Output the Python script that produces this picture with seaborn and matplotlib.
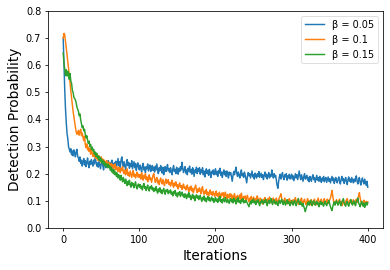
import numpy as np
import pandas as pd
import seaborn as sns
import matplotlib
matplotlib.use("Agg")
import matplotlib.pyplot as plt

labels = ["β = 0.05", "β = 0.1", "β = 0.15"]

beta_005 = [
    0.700, 0.600, 0.510, 0.440, 0.390, 0.350, 0.330, 0.300, 0.290, 0.280, 0.292, 0.270, 0.284, 0.266, 0.288, 0.276, 0.262, 0.280, 0.290, 0.264,
    0.258, 0.246, 0.262, 0.238, 0.250, 0.228, 0.244, 0.256, 0.232, 0.248, 0.226, 0.240, 0.258, 0.236, 0.222, 0.246, 0.234, 0.252, 0.238, 0.228,
    0.250, 0.236, 0.262, 0.244, 0.228, 0.240, 0.224, 0.246, 0.232, 0.218, 0.238, 0.252, 0.230, 0.214, 0.236, 0.244, 0.222, 0.240, 0.230, 0.248,
    0.226, 0.242, 0.218, 0.236, 0.250, 0.228, 0.214, 0.240, 0.232, 0.246, 0.222, 0.238, 0.256, 0.230, 0.244, 0.224, 0.250, 0.262, 0.238, 0.226,
    0.244, 0.228, 0.216, 0.238, 0.252, 0.230, 0.242, 0.220, 0.236, 0.226, 0.248, 0.218, 0.232, 0.244, 0.222, 0.238, 0.212, 0.230, 0.240, 0.222,
    0.214, 0.232, 0.220, 0.206, 0.228, 0.238, 0.214, 0.224, 0.204, 0.226, 0.218, 0.236, 0.210, 0.222, 0.232, 0.208, 0.220, 0.230, 0.212, 0.224,
    0.206, 0.228, 0.214, 0.236, 0.212, 0.200, 0.222, 0.210, 0.230, 0.218, 0.202, 0.224, 0.196, 0.214, 0.226, 0.208, 0.220, 0.234, 0.210, 0.218,
    0.204, 0.222, 0.210, 0.196, 0.218, 0.230, 0.208, 0.216, 0.200, 0.224, 0.212, 0.198, 0.220, 0.208, 0.226, 0.214, 0.242, 0.220, 0.204, 0.216,
    0.226, 0.202, 0.214, 0.196, 0.220, 0.210, 0.228, 0.204, 0.216, 0.198, 0.222, 0.212, 0.190, 0.214, 0.206, 0.224, 0.200, 0.218, 0.208, 0.222,
    0.198, 0.214, 0.204, 0.222, 0.196, 0.210, 0.188, 0.206, 0.218, 0.200, 0.212, 0.194, 0.216, 0.204, 0.186, 0.208, 0.200, 0.214, 0.196, 0.206,
    0.218, 0.196, 0.208, 0.190, 0.212, 0.202, 0.220, 0.194, 0.206, 0.186, 0.204, 0.214, 0.196, 0.208, 0.190, 0.210, 0.200, 0.184, 0.206, 0.196,
    0.204, 0.188, 0.172, 0.194, 0.208, 0.196, 0.212, 0.224, 0.200, 0.190, 0.206, 0.194, 0.184, 0.202, 0.214, 0.192, 0.200, 0.186, 0.206, 0.196,
    0.182, 0.166, 0.190, 0.204, 0.192, 0.200, 0.184, 0.198, 0.210, 0.188, 0.196, 0.180, 0.202, 0.192, 0.184, 0.200, 0.190, 0.208, 0.186, 0.194,
    0.202, 0.186, 0.196, 0.178, 0.194, 0.206, 0.188, 0.198, 0.180, 0.194, 0.204, 0.184, 0.196, 0.190, 0.214, 0.196, 0.184, 0.200, 0.188, 0.194,
    0.174, 0.156, 0.146, 0.172, 0.190, 0.198, 0.180, 0.194, 0.204, 0.186, 0.178, 0.196, 0.188, 0.200, 0.176, 0.192, 0.184, 0.198, 0.180, 0.190,
    0.198, 0.180, 0.192, 0.174, 0.188, 0.200, 0.184, 0.196, 0.178, 0.194, 0.210, 0.190, 0.178, 0.196, 0.184, 0.172, 0.190, 0.200, 0.180, 0.186,
    0.194, 0.176, 0.186, 0.170, 0.190, 0.182, 0.172, 0.188, 0.196, 0.178, 0.186, 0.168, 0.182, 0.194, 0.176, 0.186, 0.172, 0.190, 0.180, 0.168,
    0.184, 0.174, 0.190, 0.170, 0.180, 0.186, 0.168, 0.178, 0.188, 0.172, 0.182, 0.166, 0.178, 0.190, 0.174, 0.184, 0.164, 0.176, 0.186, 0.172,
    0.166, 0.180, 0.188, 0.172, 0.162, 0.178, 0.190, 0.174, 0.182, 0.164, 0.176, 0.186, 0.170, 0.160, 0.178, 0.188, 0.172, 0.180, 0.168, 0.186,
    0.176, 0.166, 0.180, 0.170, 0.184, 0.192, 0.172, 0.162, 0.178, 0.186, 0.168, 0.158, 0.176, 0.184, 0.170, 0.162, 0.180, 0.168, 0.156, 0.172,
    0.150,
]

beta_010 = [
    0.700, 0.718, 0.712, 0.690, 0.665, 0.640, 0.615, 0.590, 0.560, 0.535, 0.505, 0.480, 0.455, 0.430, 0.410, 0.390, 0.372, 0.355, 0.345, 0.352,
    0.360, 0.342, 0.356, 0.364, 0.340, 0.350, 0.334, 0.322, 0.338, 0.308, 0.296, 0.310, 0.288, 0.298, 0.282, 0.294, 0.272, 0.286, 0.276, 0.264,
    0.278, 0.262, 0.270, 0.256, 0.274, 0.258, 0.248, 0.266, 0.252, 0.244, 0.262, 0.246, 0.254, 0.238, 0.250, 0.242, 0.232, 0.248, 0.240, 0.228,
    0.242, 0.230, 0.222, 0.238, 0.226, 0.234, 0.218, 0.228, 0.236, 0.214, 0.226, 0.220, 0.208, 0.224, 0.216, 0.204, 0.220, 0.212, 0.226, 0.206,
    0.200, 0.214, 0.196, 0.208, 0.218, 0.194, 0.204, 0.190, 0.210, 0.198, 0.186, 0.202, 0.212, 0.190, 0.198, 0.184, 0.196, 0.206, 0.188, 0.198,
    0.186, 0.196, 0.180, 0.204, 0.188, 0.176, 0.194, 0.184, 0.200, 0.178, 0.188, 0.170, 0.186, 0.196, 0.178, 0.184, 0.168, 0.182, 0.194, 0.200,
    0.182, 0.168, 0.178, 0.186, 0.166, 0.176, 0.160, 0.174, 0.184, 0.170, 0.162, 0.178, 0.166, 0.156, 0.172, 0.180, 0.164, 0.170, 0.178, 0.160,
    0.168, 0.154, 0.164, 0.176, 0.158, 0.150, 0.166, 0.156, 0.170, 0.152, 0.160, 0.144, 0.158, 0.166, 0.150, 0.156, 0.142, 0.154, 0.162, 0.146,
    0.152, 0.140, 0.148, 0.158, 0.142, 0.134, 0.150, 0.140, 0.154, 0.136, 0.146, 0.130, 0.142, 0.150, 0.158, 0.138, 0.130, 0.144, 0.134, 0.148,
    0.138, 0.126, 0.144, 0.152, 0.132, 0.124, 0.136, 0.128, 0.142, 0.122, 0.132, 0.118, 0.130, 0.140, 0.124, 0.132, 0.120, 0.134, 0.126, 0.116,
    0.128, 0.136, 0.118, 0.126, 0.114, 0.132, 0.122, 0.112, 0.128, 0.120, 0.130, 0.110, 0.122, 0.132, 0.116, 0.108, 0.124, 0.118, 0.110, 0.126,
    0.114, 0.124, 0.106, 0.118, 0.110, 0.126, 0.104, 0.116, 0.108, 0.120, 0.100, 0.114, 0.122, 0.106, 0.128, 0.112, 0.102, 0.116, 0.108, 0.118,
    0.100, 0.112, 0.120, 0.104, 0.096, 0.110, 0.102, 0.116, 0.098, 0.106, 0.114, 0.094, 0.108, 0.100, 0.112, 0.118, 0.098, 0.106, 0.096, 0.110,
    0.104, 0.094, 0.088, 0.106, 0.098, 0.112, 0.096, 0.104, 0.090, 0.108, 0.100, 0.114, 0.096, 0.104, 0.092, 0.106, 0.110, 0.096, 0.090, 0.104,
    0.110, 0.098, 0.092, 0.104, 0.112, 0.118, 0.126, 0.108, 0.096, 0.090, 0.102, 0.110, 0.094, 0.100, 0.088, 0.104, 0.096, 0.108, 0.092, 0.102,
    0.096, 0.088, 0.104, 0.092, 0.100, 0.112, 0.090, 0.098, 0.106, 0.086, 0.096, 0.090, 0.104, 0.110, 0.094, 0.088, 0.100, 0.106, 0.092, 0.086,
    0.098, 0.108, 0.092, 0.100, 0.084, 0.096, 0.104, 0.090, 0.086, 0.098, 0.106, 0.092, 0.084, 0.098, 0.104, 0.110, 0.094, 0.088, 0.100, 0.106,
    0.094, 0.086, 0.100, 0.108, 0.092, 0.088, 0.102, 0.106, 0.090, 0.096, 0.104, 0.110, 0.122, 0.138, 0.118, 0.100, 0.092, 0.086, 0.098, 0.104,
    0.092, 0.086, 0.100, 0.106, 0.090, 0.096, 0.082, 0.094, 0.102, 0.088, 0.084, 0.096, 0.104, 0.108, 0.092, 0.086, 0.098, 0.104, 0.094, 0.088,
    0.096, 0.104, 0.090, 0.086, 0.098, 0.106, 0.094, 0.108, 0.118, 0.130, 0.110, 0.098, 0.090, 0.084, 0.096, 0.102, 0.090, 0.086, 0.098, 0.088,
    0.096,
]

beta_015 = [
    0.645, 0.610, 0.585, 0.562, 0.584, 0.560, 0.578, 0.566, 0.548, 0.570, 0.542, 0.534, 0.508, 0.500, 0.482, 0.478, 0.472, 0.462, 0.446, 0.438,
    0.430, 0.414, 0.420, 0.398, 0.384, 0.370, 0.376, 0.358, 0.364, 0.346, 0.332, 0.340, 0.324, 0.312, 0.320, 0.300, 0.308, 0.290, 0.298, 0.284,
    0.290, 0.272, 0.280, 0.264, 0.276, 0.258, 0.266, 0.250, 0.262, 0.246, 0.254, 0.240, 0.250, 0.234, 0.244, 0.228, 0.238, 0.232, 0.222, 0.236,
    0.222, 0.230, 0.212, 0.224, 0.206, 0.216, 0.200, 0.214, 0.196, 0.206, 0.190, 0.202, 0.184, 0.196, 0.188, 0.176, 0.194, 0.180, 0.170, 0.186,
    0.174, 0.164, 0.180, 0.166, 0.156, 0.172, 0.160, 0.176, 0.158, 0.150, 0.168, 0.156, 0.164, 0.148, 0.160, 0.170, 0.152, 0.144, 0.158, 0.162,
    0.150, 0.160, 0.146, 0.154, 0.140, 0.156, 0.164, 0.146, 0.152, 0.138, 0.150, 0.158, 0.142, 0.136, 0.152, 0.146, 0.156, 0.140, 0.148, 0.134,
    0.146, 0.138, 0.152, 0.136, 0.128, 0.144, 0.134, 0.148, 0.130, 0.140, 0.126, 0.138, 0.146, 0.132, 0.124, 0.140, 0.134, 0.142, 0.126, 0.136,
    0.130, 0.140, 0.124, 0.132, 0.118, 0.134, 0.126, 0.138, 0.120, 0.128, 0.114, 0.130, 0.122, 0.134, 0.116, 0.126, 0.132, 0.118, 0.124, 0.112,
    0.126, 0.116, 0.108, 0.124, 0.114, 0.130, 0.112, 0.120, 0.104, 0.116, 0.124, 0.108, 0.118, 0.100, 0.114, 0.122, 0.110, 0.118, 0.104, 0.114,
    0.120, 0.106, 0.098, 0.112, 0.104, 0.118, 0.100, 0.110, 0.096, 0.108, 0.116, 0.102, 0.112, 0.098, 0.106, 0.114, 0.100, 0.108, 0.094, 0.104,
    0.112, 0.098, 0.106, 0.094, 0.110, 0.100, 0.116, 0.096, 0.104, 0.092, 0.108, 0.102, 0.096, 0.112, 0.100, 0.094, 0.106, 0.098, 0.090, 0.104,
    0.108, 0.096, 0.104, 0.092, 0.110, 0.098, 0.102, 0.088, 0.106, 0.096, 0.112, 0.094, 0.100, 0.090, 0.104, 0.098, 0.108, 0.092, 0.100, 0.094,
    0.102, 0.096, 0.090, 0.084, 0.078, 0.090, 0.098, 0.088, 0.102, 0.094, 0.106, 0.092, 0.098, 0.086, 0.100, 0.094, 0.104, 0.090, 0.082, 0.096,
    0.092, 0.104, 0.096, 0.088, 0.100, 0.094, 0.106, 0.090, 0.082, 0.096, 0.102, 0.090, 0.098, 0.108, 0.094, 0.086, 0.098, 0.104, 0.092, 0.088,
    0.098, 0.088, 0.082, 0.096, 0.102, 0.090, 0.098, 0.106, 0.092, 0.086, 0.100, 0.092, 0.084, 0.096, 0.104, 0.090, 0.098, 0.088, 0.082, 0.094,
    0.100, 0.090, 0.084, 0.096, 0.102, 0.088, 0.082, 0.094, 0.100, 0.108, 0.092, 0.086, 0.096, 0.088, 0.080, 0.090, 0.078, 0.070, 0.060, 0.072,
    0.080, 0.090, 0.096, 0.084, 0.094, 0.102, 0.088, 0.082, 0.096, 0.100, 0.090, 0.084, 0.094, 0.098, 0.086, 0.092, 0.078, 0.090, 0.098, 0.086,
    0.094, 0.086, 0.080, 0.092, 0.098, 0.088, 0.082, 0.090, 0.096, 0.102, 0.088, 0.078, 0.070, 0.064, 0.078, 0.088, 0.096, 0.084, 0.094, 0.100,
    0.090, 0.084, 0.094, 0.100, 0.088, 0.082, 0.096, 0.102, 0.108, 0.092, 0.086, 0.080, 0.092, 0.098, 0.086, 0.080, 0.090, 0.096, 0.104, 0.090,
    0.084, 0.094, 0.100, 0.088, 0.082, 0.096, 0.102, 0.110, 0.092, 0.086, 0.078, 0.090, 0.098, 0.086, 0.080, 0.092, 0.076, 0.088, 0.094, 0.084,
    0.092,
]

series = [beta_005, beta_010, beta_015]
colors = ["#1f77b4", "#ff7f0e", "#2ca02c"]

scale = 0.7
plt.rcParams.update({
    "axes.linewidth": 0.8 * scale,
    "xtick.major.width": 0.8 * scale,
    "ytick.major.width": 0.8 * scale,
    "xtick.major.size": 3.5 * scale,
    "ytick.major.size": 3.5 * scale,
    "xtick.major.pad": 3.5 * scale,
    "ytick.major.pad": 3.5 * scale,
    "axes.labelpad": 4.0 * scale,
})

fig = plt.figure(figsize=(3.9, 2.7), dpi=100)
ax = fig.add_axes([0.123, 0.156, 0.859, 0.803])

for lab, vals, col in zip(labels, series, colors):
    df = pd.DataFrame({"Iterations": np.arange(len(vals)), "p": vals})
    sns.lineplot(data=df, x="Iterations", y="p", ax=ax, color=col, label=lab,
                 estimator=None, linewidth=1.5 * scale)

ax.set_ylim(0, 0.8)
ax.set_xlim(-20, 420)
ax.set_xticks([0, 100, 200, 300, 400])
ax.set_yticks([0.0, 0.1, 0.2, 0.3, 0.4, 0.5, 0.6, 0.7, 0.8])
ax.tick_params(labelsize=10 * scale)
ax.set_xlabel("Iterations", fontsize=14 * scale)
ax.set_ylabel("Detection Probability", fontsize=14 * scale)
leg = ax.legend(loc="upper right", fontsize=10 * scale)
leg.get_frame().set_linewidth(0.8 * scale)
for line in leg.get_lines():
    line.set_linewidth(1.5 * scale)

fig.savefig("out.png", dpi=100)
